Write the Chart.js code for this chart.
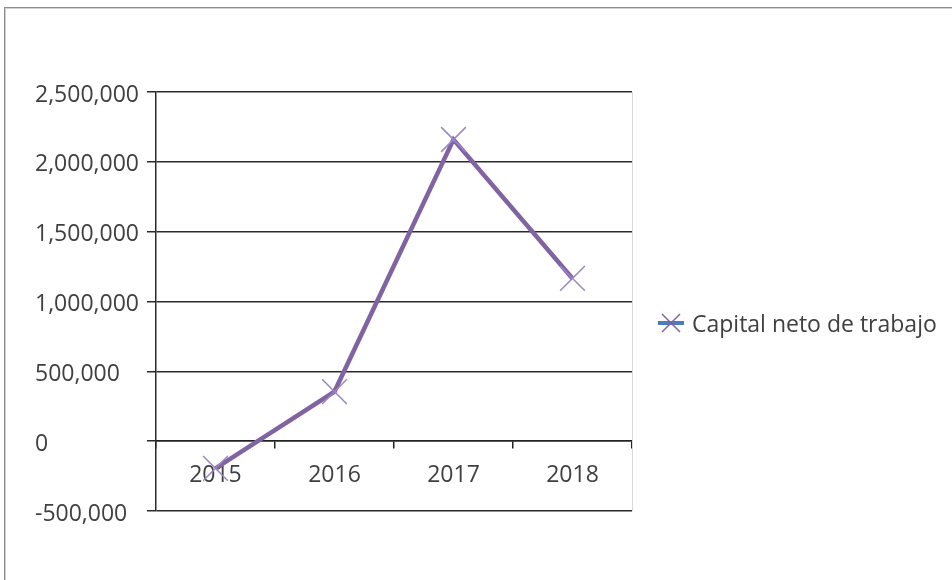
<!DOCTYPE html>
<html>
<head>
<meta charset="utf-8">
<script src="https://cdn.jsdelivr.net/npm/chart.js@4.4.1/dist/chart.umd.min.js"></script>
<style>
  html, body { margin: 0; padding: 0; background: #fff; overflow: hidden; }
  #wrap { position: relative; width: 952px; height: 580px; }
  #frame { position: absolute; left: 4px; top: 7px; width: 980px; height: 600px;
           border: 1px solid #8c8c8c; box-shadow: inset 1px 1px 0 #d0d0d0; }
  #chart { position: absolute; left: 0; top: 0; }
</style>
</head>
<body>
<div id="wrap">
  <div id="frame"></div>
  <canvas id="chart" width="952" height="580"></canvas>
</div>
<script>
// Years and net working capital values
const years = ['2015', '2016', '2017', '2018'];
const capitalNeto = [-195000, 355000, 2160000, 1165000];
const seriesName = 'Capital neto de trabajo';

// Axis range
const yMin = -500000;
const yMax = 2500000;
const yStep = 500000;

const fontFamily = "'Open Sans', 'DejaVu Sans', sans-serif";
const textColor = '#404040';

// Legend to the right of the plot: blue line, purple cross, series name
const sideLegend = {
  id: 'sideLegend',
  afterDraw(chart) {
    const { ctx, chartArea } = chart;
    const x = chartArea.right + 26;
    const y = 323;
    ctx.save();
    ctx.strokeStyle = '#4a7ebb';
    ctx.lineWidth = 4;
    ctx.beginPath();
    ctx.moveTo(x, y);
    ctx.lineTo(x + 26, y);
    ctx.stroke();
    ctx.strokeStyle = '#8064a2';
    ctx.lineWidth = 1.5;
    ctx.beginPath();
    ctx.moveTo(x + 4, y - 9);
    ctx.lineTo(x + 22, y + 9);
    ctx.moveTo(x + 22, y - 9);
    ctx.lineTo(x + 4, y + 9);
    ctx.stroke();
    ctx.fillStyle = textColor;
    ctx.font = '23px ' + fontFamily;
    ctx.textBaseline = 'middle';
    ctx.fillText(chart.data.datasets[0].label, x + 34, y + 2);
    ctx.restore();
  }
};

// Light grey right edge of the plot area
const plotEdge = {
  id: 'plotEdge',
  beforeDatasetsDraw(chart) {
    const { ctx, chartArea } = chart;
    ctx.save();
    ctx.strokeStyle = '#d9d9d9';
    ctx.lineWidth = 1;
    ctx.beginPath();
    ctx.moveTo(chartArea.right + 0.5, chartArea.top);
    ctx.lineTo(chartArea.right + 0.5, chartArea.bottom);
    ctx.stroke();
    ctx.restore();
  }
};

new Chart(document.getElementById('chart'), {
  type: 'line',
  data: {
    labels: years,
    datasets: [{
      label: seriesName,
      data: capitalNeto,
      borderColor: '#8064a2',
      borderWidth: 4.5,
      tension: 0,
      pointStyle: 'crossRot',
      pointRadius: 17.5,
      pointHoverRadius: 17.5,
      pointBorderColor: '#9b85c4',
      pointBorderWidth: 1.5,
      backgroundColor: '#8064a2',
      clip: false
    }]
  },
  options: {
    responsive: false,
    animation: false,
    layout: { padding: { left: 35, top: 92, right: 320, bottom: 69 } },
    plugins: {
      tooltip: { enabled: false },
      legend: { display: false }
    },
    scales: {
      x: {
        position: { y: 0 },
        offset: true,
        grid: {
          drawOnChartArea: false,
          drawTicks: true,
          tickLength: 7,
          color: '#222',
          lineWidth: 1.5,
          offset: true
        },
        border: { color: '#222', width: 1.5 },
        ticks: {
          color: textColor,
          font: { family: fontFamily, size: 23 },
          padding: 13,
          maxRotation: 0
        }
      },
      y: {
        min: yMin,
        max: yMax,
        grid: {
          color: '#2a2a2a',
          lineWidth: 1.5,
          tickLength: 9
        },
        border: { color: '#2a2a2a', width: 1.5 },
        ticks: {
          stepSize: yStep,
          crossAlign: 'far',
          labelOffset: 3,
          color: textColor,
          font: { family: fontFamily, size: 23 },
          padding: 4,
          callback: (v) => v.toLocaleString('en-US')
        }
      }
    }
  },
  plugins: [plotEdge, sideLegend]
});
</script>
</body>
</html>
